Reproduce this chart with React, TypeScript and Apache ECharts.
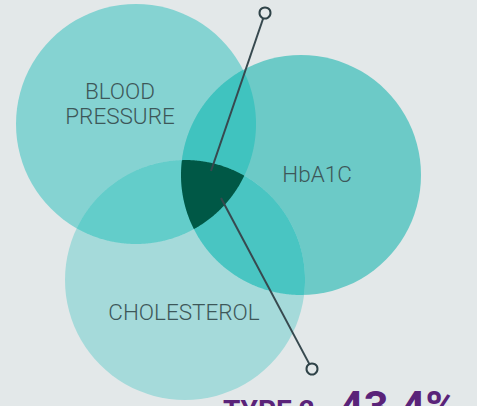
import React, { useEffect, useRef } from "react";
import * as echarts from "echarts";

// Venn sets (data coordinates on hidden axes: x 0..477, y 0..406 downward)
const setLabels = ["BLOOD\nPRESSURE", "HbA1C", "CHOLESTEROL"];
const setCenterX = [136, 301, 185];
const setCenterY = [124, 175, 280];
const setRadius = [120, 120, 120];
const labelX = [120, 317, 184];
const labelY = [103, 174, 312];

// overlap regions (indices of sets)
const overlapSets = [[0, 1], [0, 2], [1, 2], [0, 1, 2]];

// callout line: [x1, y1, x2, y2]
const calloutTop = [265, 13, 211, 171];
const calloutBottom = [221, 198, 312, 369];

const headline = "TYPE 2";
const headlineValue = "43.4%";

const BG = "#e3e8e9";
const setColors = ["#85d3d2", "#6ccac7", "#a5dada"];
const overlapColors = ["#40c3bf", "#63cdca", "#49c5c2", "#005846"];

function regionPolygon(circles: { x: number; y: number; r: number }[]) {
  const pts: number[][] = [];
  const N = 900;
  circles.forEach((c, i) => {
    for (let k = 0; k < N; k++) {
      const a = (k / N) * Math.PI * 2;
      const px = c.x + c.r * Math.cos(a);
      const py = c.y + c.r * Math.sin(a);
      let inside = true;
      circles.forEach((o, j) => {
        if (j === i) return;
        const d = Math.hypot(px - o.x, py - o.y);
        if (d > o.r + 1e-6) inside = false;
      });
      if (inside) pts.push([px, py]);
    }
  });
  if (!pts.length) return pts;
  let mx = 0, my = 0;
  pts.forEach((p) => { mx += p[0]; my += p[1]; });
  mx /= pts.length; my /= pts.length;
  pts.sort((p, q) => Math.atan2(p[1] - my, p[0] - mx) - Math.atan2(q[1] - my, q[0] - mx));
  return pts;
}

export default function App() {
  const ref = useRef<HTMLDivElement>(null);
  useEffect(() => {
    document.body.style.margin = "0";
    document.body.style.background = BG;
    const chart = echarts.init(ref.current!, null, { renderer: "svg" });

    const circleData = setLabels.map((_, i) => [setCenterX[i], setCenterY[i], setRadius[i], i]);

    const getCircles = (api: any) =>
      setLabels.map((_, i) => {
        const c = api.coord([setCenterX[i], setCenterY[i]]);
        const r = api.size([setRadius[i], 0])[0];
        return { x: c[0], y: c[1], r };
      });

    const lineEl = (api: any, seg: number[], endAtStart: boolean) => {
      const p1 = api.coord([seg[0], seg[1]]);
      const p2 = api.coord([seg[2], seg[3]]);
      const end = endAtStart ? p1 : p2;
      const other = endAtStart ? p2 : p1;
      const dx = other[0] - end[0], dy = other[1] - end[1];
      const len = Math.hypot(dx, dy);
      const rr = 5.5;
      const s = [end[0] + (dx / len) * rr, end[1] + (dy / len) * rr];
      return [
        {
          type: "line",
          shape: { x1: s[0], y1: s[1], x2: other[0], y2: other[1] },
          style: { stroke: "#37494f", lineWidth: 2 },
        },
        {
          type: "circle",
          shape: { cx: end[0], cy: end[1], r: rr },
          style: { fill: BG, stroke: "#2f4348", lineWidth: 2 },
        },
      ];
    };

    chart.setOption({
      animation: false,
      backgroundColor: BG,
      grid: { left: 0, right: 0, top: 0, bottom: 0 },
      xAxis: { type: "value", min: 0, max: 477, show: false },
      yAxis: { type: "value", min: 0, max: 406, inverse: true, show: false },
      series: [
        {
          type: "custom",
          coordinateSystem: "cartesian2d",
          data: circleData,
          silent: true,
          renderItem: (params: any, api: any) => {
            const i = params.dataIndex;
            const c = api.coord([setCenterX[i], setCenterY[i]]);
            const r = api.size([setRadius[i], 0])[0];
            return {
              type: "circle",
              shape: { cx: c[0], cy: c[1], r },
              style: { fill: setColors[i] },
            };
          },
          z: 1,
        },
        {
          type: "custom",
          coordinateSystem: "cartesian2d",
          data: overlapSets.map((s, i) => [i, s.length]),
          silent: true,
          renderItem: (params: any, api: any) => {
            const i = params.dataIndex;
            const all = getCircles(api);
            const pts = regionPolygon(overlapSets[i].map((k) => all[k]));
            return {
              type: "polygon",
              shape: { points: pts },
              style: { fill: overlapColors[i] },
            };
          },
          z: 2,
        },
        {
          type: "custom",
          coordinateSystem: "cartesian2d",
          data: setLabels.map((_, i) => [labelX[i], labelY[i]]),
          silent: true,
          renderItem: (params: any, api: any) => {
            const i = params.dataIndex;
            const p = api.coord([labelX[i], labelY[i]]);
            return {
              type: "text",
              x: p[0],
              y: p[1],
              style: {
                text: setLabels[i],
                fill: "#3d5759",
                font: "300 22.5px Roboto",
                align: "center",
                verticalAlign: "middle",
                lineHeight: 25,
              },
            };
          },
          z: 3,
        },
        {
          type: "custom",
          coordinateSystem: "cartesian2d",
          data: [[0, 0]],
          silent: true,
          renderItem: (params: any, api: any) => ({
            type: "group",
            children: [...lineEl(api, calloutTop, true), ...lineEl(api, calloutBottom, false)],
          }),
          z: 4,
        },
      ],
      graphic: [
        {
          type: "text",
          x: 223,
          y: 396,
          z: 10,
          style: {
            text: headline,
            fill: "#5a2379",
            font: "bold 28px Roboto",
            verticalAlign: "top",
          },
        },
        {
          type: "text",
          x: 339,
          y: 384,
          z: 10,
          style: {
            text: headlineValue,
            fill: "#5a2379",
            font: "bold 43px Roboto",
            verticalAlign: "top",
          },
        },
      ],
    });
    return () => chart.dispose();
  }, []);
  return <div ref={ref} style={{ width: 477, height: 406 }} />;
}
